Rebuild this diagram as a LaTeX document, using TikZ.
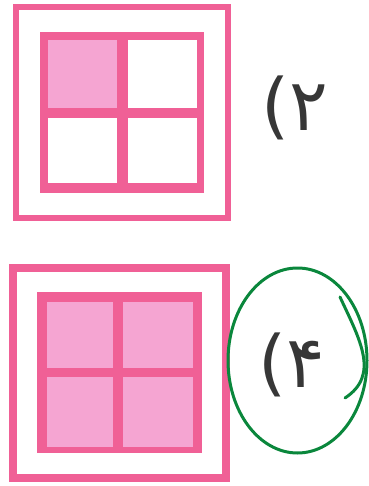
\documentclass[tikz,border=0pt]{standalone}
\usepackage{fontspec}
\TeXXeTstate=1
\newfontfamily\arabicfont[Script=Arabic]{DejaVu Sans}
\usetikzlibrary{shapes.geometric,positioning}
\definecolor{boxPink}{RGB}{240,96,150}
\definecolor{cellPink}{RGB}{245,165,210}
\definecolor{penGreen}{RGB}{10,135,60}
\definecolor{inkGray}{RGB}{55,55,55}
\tikzset{
  outerbox/.style = {rectangle, draw=boxPink, line width=6pt,
                     inner sep=0pt, outer sep=0pt},
  window/.style   = {rectangle, fill=boxPink, inner sep=0pt,
                     outer sep=0pt, anchor=north west},
  pane/.style     = {rectangle, fill=white, inner sep=0pt,
                     outer sep=0pt, anchor=north west},
  fullpane/.style = {pane, fill=cellPink},
  choice/.style   = {font=\arabicfont\fontsize{72}{74}\selectfont,
                     text=inkGray, inner sep=0pt},
  penmark/.style  = {draw=penGreen, line width=3pt, line cap=round},
}
\begin{document}
\begin{tikzpicture}[x=1pt, y=-1pt]
\useasboundingbox (0,0) rectangle (368,486);

%% -- option 2: one pane shaded -----------------------------
\node[outerbox, minimum width=212pt, minimum height=211pt] (boxB) at (122,112.5) {};
\node[window, minimum width=164pt, minimum height=161pt] (winB) at (40,32) {};
\node[fullpane, minimum width=69pt, minimum height=68pt] (paneBa) at (48,40)  {};
\node[pane,     minimum width=69pt, minimum height=68pt] (paneBb) at (128,40) {};
\node[pane,     minimum width=69pt, minimum height=65pt] (paneBc) at (48,118) {};
\node[pane,     minimum width=69pt, minimum height=65pt] (paneBd) at (128,118) {};
\node[choice] (optB) at (295,108) {\beginR ۲)\endR};

%% -- option 4: all panes shaded ----------------------------
\node[outerbox, line width=8pt, minimum width=213.5pt, minimum height=210pt]
  (boxD) at (119.25,372.5) {};
\node[window, minimum width=165pt, minimum height=161pt] (winD) at (37,292) {};
\node[fullpane, minimum width=66pt, minimum height=66pt] (paneDa) at (47,302)  {};
\node[fullpane, minimum width=70pt, minimum height=66pt] (paneDb) at (123,302) {};
\node[fullpane, minimum width=66pt, minimum height=70pt] (paneDc) at (47,377)  {};
\node[fullpane, minimum width=70pt, minimum height=70pt] (paneDd) at (123,377) {};
\node[choice] (optD) at (292,365) {\beginR ۴)\endR};

%% -- the answer circled ------------------------------------
\node[ellipse, penmark, minimum width=139pt, minimum height=185pt] (answer) at (297.5,360.5) {};
\draw[penmark] (340,297) .. controls (360,340) and (380,375) .. (345,398);

\end{tikzpicture}
\end{document}
